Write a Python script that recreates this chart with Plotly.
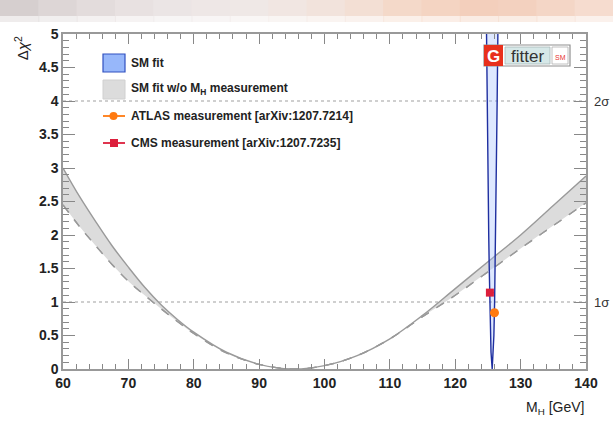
import plotly.graph_objects as go

# ---------------- data ----------------
band_x = [60, 62.5, 65, 67.5, 70, 72.5, 75, 77.5, 80, 85, 90, 95, 100, 105, 110, 115, 120, 125, 130, 135, 140]
band_upper = [3.00, 2.58, 2.20, 1.84, 1.52, 1.22, 0.96, 0.74, 0.55, 0.25, 0.07, 0.00, 0.05, 0.20, 0.45, 0.80, 1.20, 1.60, 2.00, 2.44, 2.88]
band_lower = [2.45, 2.13, 1.84, 1.56, 1.31, 1.10, 0.90, 0.71, 0.53, 0.24, 0.07, 0.00, 0.05, 0.20, 0.45, 0.78, 1.10, 1.45, 1.80, 2.14, 2.48]

# SM fit (with M_H): narrow band, left / right edge vs. delta chi2
sm_y = [0, 0.25, 0.5, 1, 1.5, 2, 3, 4, 5, 5.5]
sm_left = [125.65, 125.47, 125.39, 125.28, 125.20, 125.12, 125.00, 124.88, 124.77, 124.73]
sm_right = [125.65, 125.83, 125.91, 126.02, 126.10, 126.18, 126.30, 126.41, 126.52, 126.56]

# measurements
atlas_x, atlas_y, atlas_err = [126.0], [0.84], [0.6]
cms_x, cms_y, cms_err = [125.3], [1.14], [0.6]

sigma_levels = [1, 4]
sigma_labels = ["1σ", "2σ"]

legend_names = ["SM fit", "SM fit w/o M<sub>H</sub> measurement",
                "ATLAS measurement [arXiv:1207.7214]", "CMS measurement [arXiv:1207.7235]"]

x_ticks = [60, 70, 80, 90, 100, 110, 120, 130, 140]

# ---------------- styles ----------------
FONT = "Liberation Sans, Arial, Helvetica, sans-serif"
GRAY_LINE = "#9a9a9a"
BAND_FILL = "#dcdcdc"
BLUE_LINE = "#1f2fa0"
BLUE_FILL = "rgba(160,190,255,0.35)"
ORANGE = "#ff7a10"
RED = "#dc1f3c"

fig = go.Figure()

# gray band
fig.add_trace(go.Scatter(x=band_x, y=band_lower, mode="lines", line=dict(color=GRAY_LINE, width=1.3, dash="dash"),
                         line_shape="spline", showlegend=False, hoverinfo="skip"))
fig.add_trace(go.Scatter(x=band_x, y=band_upper, mode="lines", line=dict(color=GRAY_LINE, width=1.4),
                         line_shape="spline", fill="tonexty", fillcolor=BAND_FILL, showlegend=False, hoverinfo="skip"))
fig.add_trace(go.Scatter(x=band_x, y=band_lower, mode="lines", line=dict(color=GRAY_LINE, width=1.3, dash="dash"),
                         line_shape="spline", showlegend=False, hoverinfo="skip"))

# blue SM fit band (closed polygon)
poly_x = sm_left[::-1] + sm_right
poly_y = sm_y[::-1] + sm_y
fig.add_trace(go.Scatter(x=poly_x, y=poly_y, mode="lines", fill="toself", fillcolor=BLUE_FILL,
                         line=dict(color=BLUE_LINE, width=1.4), showlegend=False, hoverinfo="skip"))

# measurements
fig.add_trace(go.Scatter(x=cms_x, y=cms_y, mode="markers",
                         marker=dict(symbol="square", size=8, color=RED),
                         error_x=dict(type="data", array=cms_err, color=RED, thickness=1.5, width=0),
                         showlegend=False))
fig.add_trace(go.Scatter(x=atlas_x, y=atlas_y, mode="markers",
                         marker=dict(symbol="circle", size=9, color=ORANGE),
                         error_x=dict(type="data", array=atlas_err, color=ORANGE, thickness=1.5, width=0),
                         showlegend=False))

shapes = []
annotations = []

# dotted sigma lines
for lvl, lab in zip(sigma_levels, sigma_labels):
    shapes.append(dict(type="line", xref="paper", yref="y", x0=0, x1=1, y0=lvl, y1=lvl,
                       line=dict(color="#a0a0a0", width=1.2, dash="dot"), layer="below"))
    annotations.append(dict(xref="paper", yref="y", x=1.0, y=lvl, xanchor="left", xshift=6,
                            text=lab, showarrow=False, font=dict(family=FONT, size=13, color="#333")))

# ---- manual legend (pixel positions converted to data coordinates) ----
def px2x(px):
    return 60 + (px - 63) / 523 * 80

def py2y(py):
    return (369 - py) / 335 * 5

# SM fit swatch
shapes.append(dict(type="rect", xref="x", yref="y", x0=px2x(103), x1=px2x(125), y0=py2y(72), y1=py2y(54),
                   fillcolor="rgba(140,175,250,0.9)", line=dict(color="#3050c0", width=1.2)))
# w/o MH swatch
shapes.append(dict(type="rect", xref="x", yref="y", x0=px2x(103), x1=px2x(125), y0=py2y(99), y1=py2y(80),
                   fillcolor=BAND_FILL, line=dict(color="#d0d0d0", width=1)))
# ATLAS line + marker
shapes.append(dict(type="line", xref="x", yref="y", x0=px2x(103), x1=px2x(125), y0=py2y(116), y1=py2y(116),
                   line=dict(color=ORANGE, width=1.8)))
shapes.append(dict(type="circle", xref="x", yref="y", x0=px2x(109.5), x1=px2x(117.5), y0=py2y(120), y1=py2y(112),
                   fillcolor=ORANGE, line=dict(color=ORANGE, width=0)))
# CMS line + marker
shapes.append(dict(type="line", xref="x", yref="y", x0=px2x(103), x1=px2x(125), y0=py2y(143), y1=py2y(143),
                   line=dict(color=RED, width=1.8)))
shapes.append(dict(type="rect", xref="x", yref="y", x0=px2x(110), x1=px2x(118), y0=py2y(147), y1=py2y(139),
                   fillcolor=RED, line=dict(color=RED, width=0)))

for name, py in zip(legend_names, [63, 89, 116, 143]):
    annotations.append(dict(xref="x", yref="y", x=px2x(129), y=py2y(py), xanchor="left", yanchor="middle",
                            text=name, showarrow=False,
                            font=dict(family=FONT, size=12, color="#222", weight="bold")))

# ---- Gfitter logo ----
shapes.append(dict(type="rect", xref="x", yref="y", x0=px2x(484), x1=px2x(570), y0=py2y(66), y1=py2y(45),
                   fillcolor="white", line=dict(color="#909090", width=1.2)))
shapes.append(dict(type="rect", xref="x", yref="y", x0=px2x(484), x1=px2x(503), y0=py2y(66), y1=py2y(45),
                   fillcolor="#e8301c", line=dict(color="#e8301c", width=0)))
shapes.append(dict(type="rect", xref="x", yref="y", x0=px2x(505), x1=px2x(550), y0=py2y(64), y1=py2y(47),
                   fillcolor="#d6e8e8", line=dict(color="#a8b8b8", width=0.8)))
shapes.append(dict(type="rect", xref="x", yref="y", x0=px2x(552), x1=px2x(568), y0=py2y(64), y1=py2y(47),
                   fillcolor="white", line=dict(color="#b0b0b0", width=0.8)))
annotations.append(dict(xref="x", yref="y", x=px2x(493.5), y=py2y(56), text="<b>G</b>", showarrow=False,
                        font=dict(family=FONT, size=17, color="white")))
annotations.append(dict(xref="x", yref="y", x=px2x(527.5), y=py2y(56), text="fitter", showarrow=False,
                        font=dict(family=FONT, size=17, color="#333")))
annotations.append(dict(xref="x", yref="y", x=px2x(560), y=py2y(57), text="SM", showarrow=False,
                        font=dict(family=FONT, size=7, color="#e83030")))

# ---- blurred banner at the very top ----
banner_cols = ["#d6cfcf", "#ddd6d6", "#e3dcdc", "#e8e1e1", "#ebe5e5", "#eee7e6", "#efe8e6", "#f1e6e2",
               "#f2e3dc", "#f3dfd4", "#f4d9c9", "#f4d4c2", "#f3cfbc", "#f3d1bf", "#f4d6c6", "#f6dccf"]
n = len(banner_cols)
for i, c in enumerate(banner_cols):
    x0 = (i * 613 / n - 63) / 523
    x1 = ((i + 1) * 613 / n - 63) / 523 + 0.002
    shapes.append(dict(type="rect", xref="paper", yref="paper", x0=x0, x1=x1,
                       y0=(369 - 16) / 335, y1=(369 + 2) / 335, fillcolor=c, line=dict(width=0), layer="below"))
    shapes.append(dict(type="rect", xref="paper", yref="paper", x0=x0, x1=x1,
                       y0=(369 - 22) / 335, y1=(369 - 16) / 335, fillcolor=c, opacity=0.4,
                       line=dict(width=0), layer="below"))

# axis titles
annotations.append(dict(xref="paper", yref="paper", x=-0.08, y=1.0, xanchor="center", yanchor="top",
                        text="Δ<i>χ</i><sup>2</sup>", textangle=-90, showarrow=False,
                        font=dict(family=FONT, size=15, color="#222")))
annotations.append(dict(xref="paper", yref="paper", x=1.0, y=(369 - 408) / 335, xanchor="right", yanchor="middle",
                        text="M<sub>H</sub> [GeV]", showarrow=False,
                        font=dict(family=FONT, size=14, color="#222")))

fig.update_layout(
    width=613, height=426,
    margin=dict(l=63, r=27, t=34, b=57),
    paper_bgcolor="white", plot_bgcolor="white",
    shapes=shapes, annotations=annotations, showlegend=False,
    xaxis=dict(range=[60, 140], tickvals=x_ticks, ticks="inside", ticklen=10, tickwidth=1.2, tickcolor="#888",
               showline=True, linecolor="#999", linewidth=1.5, mirror="ticks", showgrid=False, zeroline=False,
               minor=dict(dtick=2, ticks="inside", ticklen=5, tickcolor="#888", showgrid=False),
               tickfont=dict(family=FONT, size=14, color="#222", weight="bold")),
    yaxis=dict(range=[0, 5], dtick=0.5, ticks="inside", ticklen=12, tickwidth=1.2, tickcolor="#888",
               showline=True, linecolor="#999", linewidth=1.5, mirror="ticks", showgrid=False, zeroline=False,
               minor=dict(dtick=0.1, ticks="inside", ticklen=6, tickcolor="#888", showgrid=False),
               tickfont=dict(family=FONT, size=14, color="#222", weight="bold")),
)

fig.write_html("out.html")
